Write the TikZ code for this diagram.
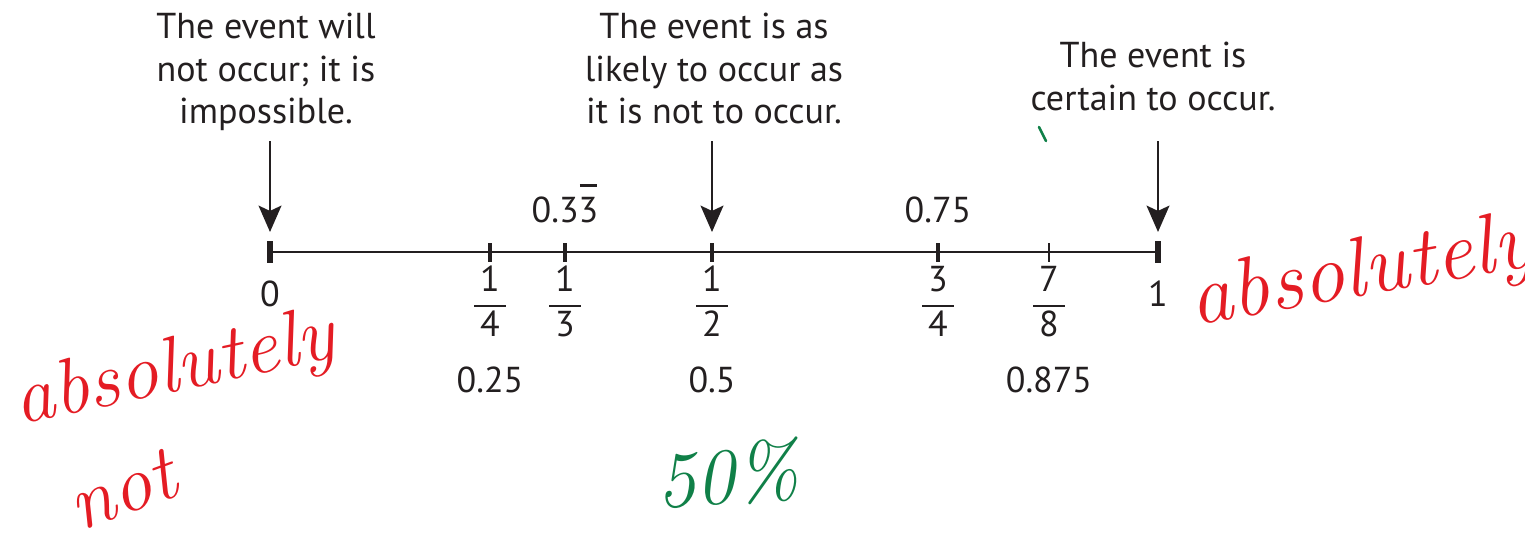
\documentclass[tikz,border=0pt]{standalone}
\usepackage{fontspec}
\usetikzlibrary{positioning, arrows.meta}
\newfontfamily\printfont{PT Sans}
\definecolor{printgray}{RGB}{35,31,32}
\definecolor{inkred}{RGB}{228,28,36}
\definecolor{inkgreen}{RGB}{16,128,72}
% stacked fraction and repeating digit
\newcommand{\stackfrac}[2]{{\setlength\arrayrulewidth{1.6pt}\begin{tabular}{@{\,}c@{\,}}#1\\\hline #2\end{tabular}}}
\newcommand{\repdigit}[1]{\ooalign{#1\cr\hidewidth\raisebox{0.98em}{\rule{0.48em}{1.3pt}}\hidewidth\cr}}

\begin{document}
\begin{tikzpicture}[x=0.02cm, y=-0.02cm,
  font=\printfont\fontsize{20.5}{24}\selectfont, text=printgray,
  axisline/.style={line width=1.7pt, draw=printgray},
  endtick/.style={line width=3.2pt, draw=printgray},
  tickmark/.style={line width=2.6pt, draw=printgray},
  thintick/.style={line width=1.2pt, draw=printgray},
  pointer/.style={line width=1.3pt, draw=printgray, shorten >=0.4cm,
    -{Stealth[length=15pt, width=13pt, inset=3pt]}},
  caption/.style={align=center, anchor=north, inner sep=0pt},
  value/.style={anchor=base, inner sep=0pt},
  fraction/.style={anchor=north, inner sep=0pt},
  scribble/.style={font=\rmfamily\itshape\fontsize{45}{45}\selectfont, inner sep=0pt}]
  \useasboundingbox (0,0) rectangle (1525,541);

  % Captions
  \node[caption] (capL) at (266,13) {The event will\\not occur; it is\\impossible.};
  \node[caption] (capM) at (714,13) {The event is as\\likely to occur as\\it is not to occur.};
  \node[caption] (capR) at (1153,42) {The event is\\certain to occur.};

  % Number line
  \foreach \nm/\px in {t0/270, tq/490, tt/565, th/712, ttq/938, tse/1049, t1/1158}
    \coordinate (\nm) at (\px,252);
  \draw[axisline] (t0) -- (t1);
  \foreach \nm in {t0, t1}
    \draw[endtick] (\nm) ++(0,-11) -- ++(0,22);
  \foreach \nm in {tq, tt, th, ttq}
    \draw[tickmark] (\nm) ++(0,-9) -- ++(0,19);
  \draw[thintick] (tse) ++(0,-9) -- ++(0,19);

  % Arrows
  \foreach \nm/\px in {a0/270, ah/712, a1/1158}
    \coordinate (\nm) at (\px,141);
  \draw[pointer] (a0) -- (t0);
  \draw[pointer] (ah) -- (th);
  \draw[pointer] (a1) -- (t1);

  % Values above
  \node[value] (dthird) at (565,222) {0.3\repdigit{3}};
  \node[value] (dtq) at (938,222) {0.75};

  % Values below
  \node[value] (l0) at (270,306) {0};
  \node[value] (l1) at (1158,306) {1};
  \node[fraction] (fq) at (490,262) {\stackfrac{1}{4}};
  \node[fraction] (ft) at (565,262) {\stackfrac{1}{3}};
  \node[fraction] (fh) at (712,262) {\stackfrac{1}{2}};
  \node[fraction] (ftq) at (938,262) {\stackfrac{3}{4}};
  \node[fraction] (fse) at (1049,262) {\stackfrac{7}{8}};
  \node[value] (dq) at (490,392) {0.25};
  \node[value] (dh) at (712,392) {0.5};
  \node[value] (dse) at (1049,392) {0.875};

  % Handwritten notes
  \node[scribble, text=inkred, rotate=12] (notesL) at (175,372) {absolutely};
  \node[scribble, text=inkred, rotate=20] (notesN) at (122,490) {not};
  \node[scribble, text=inkred, rotate=10, font=\rmfamily\itshape\fontsize{48}{48}\selectfont] (notesR) at (1362,275) {absolutely};
  \node[scribble, text=inkgreen, rotate=5] (notesP) at (727,475) {50\%};
  \draw[inkgreen, line width=1.5pt, line cap=round] (1039,127) -- (1046,141);
\end{tikzpicture}
\end{document}
